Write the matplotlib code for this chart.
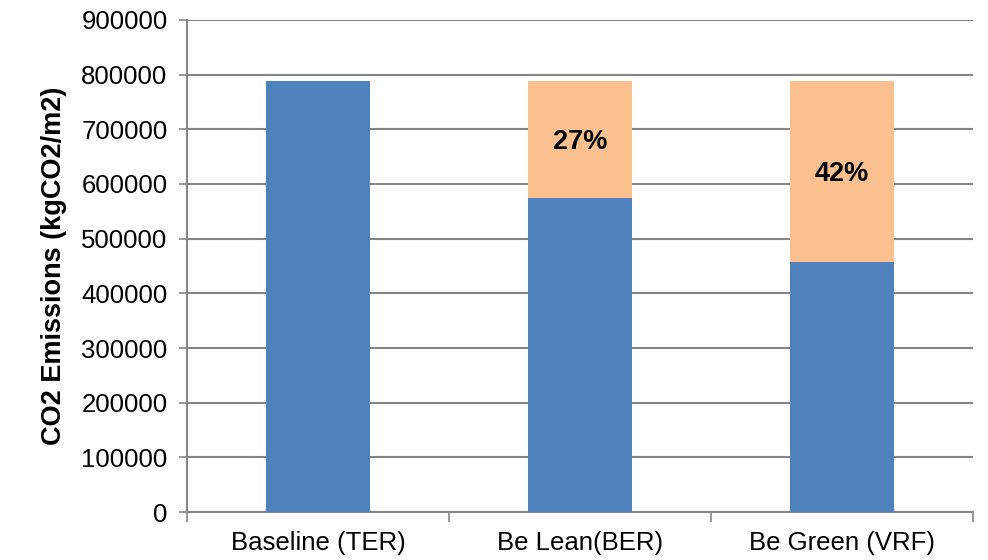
import matplotlib.pyplot as plt
import numpy as np

plt.rcParams['font.family'] = ['Liberation Sans', 'DejaVu Sans']

# emissions per scenario
scenarios = ['Baseline (TER)', 'Be Lean(BER)', 'Be Green (VRF)']
baseline_total = 788000
reduction_pct = [0, 27, 42]

reduction_pct = np.array(reduction_pct)
saved = baseline_total * reduction_pct / 100
remaining = baseline_total - saved

fig = plt.figure(figsize=(9.88, 5.6), dpi=100)
ax = fig.add_axes([0.1893, 0.0857, 0.7955, 0.8786])

x = np.arange(len(scenarios))
ax.bar(x, remaining, width=0.4, color='#4F81BD', zorder=3)
ax.bar(x, saved, width=0.4, bottom=remaining, color='#FAC090', zorder=3)

for xi, p, r, s in zip(x, reduction_pct, remaining, saved):
    if p > 0:
        ax.text(xi, r + s / 2 - 5000, '%d%%' % p, ha='center', va='center',
                fontsize=19.5, fontweight='bold', zorder=4)

ax.set_ylim(0, 900000)
ax.set_yticks(np.arange(0, 900001, 100000))
ax.set_xlim(-0.5, 2.5)
ax.set_xticks(x)
ax.set_xticklabels(scenarios)
ax.set_xticks([-0.5, 0.5, 1.5, 2.5], minor=True)
ax.tick_params(axis='x', which='major', length=0, labelsize=18.5, pad=14)
ax.tick_params(axis='x', which='minor', length=7, width=1.2, color='#868686')
ax.tick_params(axis='y', length=6, width=1.2, color='#868686', labelsize=18.5, pad=8)

ax.yaxis.grid(True, color='#868686', linewidth=1.5, zorder=0)
ax.set_axisbelow(True)
for side in ['top', 'right']:
    ax.spines[side].set_visible(False)
for side in ['left', 'bottom']:
    ax.spines[side].set_color('#868686')
    ax.spines[side].set_linewidth(1.5)

ax.set_ylabel('CO2 Emissions (kgCO2/m2)', fontsize=19.5, fontweight='bold', labelpad=10)

fig.savefig('out.png', dpi=100)
